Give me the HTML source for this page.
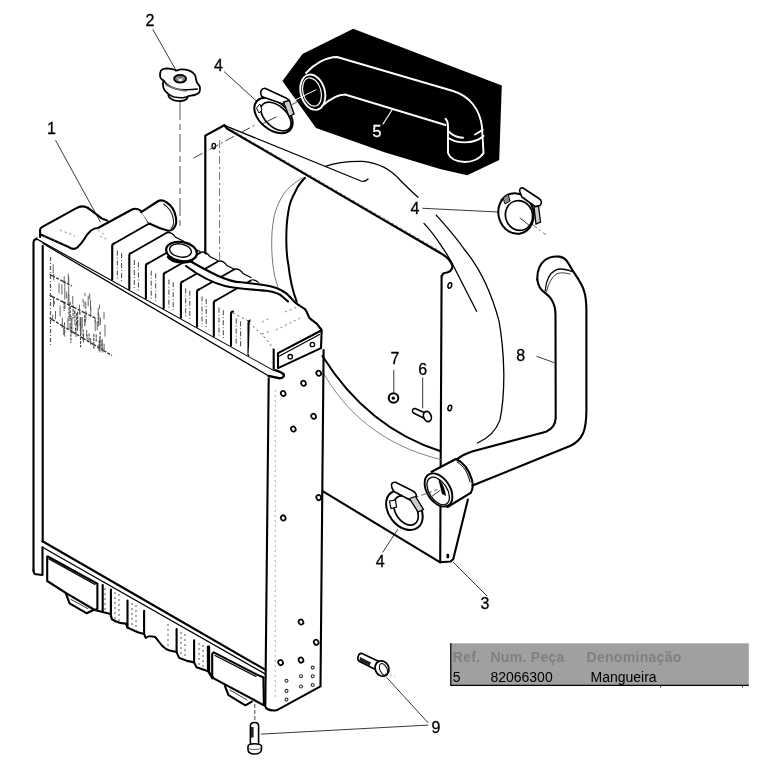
<!DOCTYPE html>
<html><head><meta charset="utf-8">
<style>
html,body{margin:0;padding:0;background:#fff;width:757px;height:768px;overflow:hidden}
svg{position:absolute;left:0;top:0;display:block;will-change:transform}
.n{font-family:"Liberation Sans",sans-serif;font-size:16px;fill:#000;stroke:#000;stroke-width:0.3;text-anchor:middle}
.k{fill:none;stroke:#000;stroke-width:2.1;stroke-linejoin:round;stroke-linecap:round}
.m{fill:none;stroke:#000;stroke-width:1.3;stroke-linecap:round}
.s{fill:none;stroke:#222;stroke-width:0.9;stroke-linecap:round}
.d{fill:none;stroke:#333;stroke-width:0.9;stroke-dasharray:14 4 2 4}
.g{fill:none;stroke:#777;stroke-width:0.8;stroke-dasharray:2 3}
.w{fill:none;stroke:#fff;stroke-width:1.9;stroke-linecap:round;stroke-linejoin:round}
.tb{font-family:"Liberation Sans",sans-serif;font-size:14px}
</style></head><body>
<svg width="757" height="768" viewBox="0 0 757 768">
<!-- ========== HOSE 5 (black highlight) ========== -->
<g id="hose5">
<polygon points="353.2,28.7 501.8,85.4 499.2,160.1 467.3,175.3 440,169 384.5,152.3 316,128 282.4,81 302.5,54.1" fill="#000"/>

<path class="w" d="M306,73 C314,64 326,57 337,57 L453,91 C470,96 480,110 482,127 L483.5,153"/>
<path class="w" d="M322,106 C330,99 338,94.5 345,94.5 L445.5,125"/>
<path class="w" d="M445.5,118.7 C448,121 448,124 448,127 L448,153 C450,159 456,161.5 464.5,162 C472,162 480,159 483.5,153"/>
<path class="w" d="M448,131 C452,135 458,137.5 463,137.7"/>
<path class="w" d="M475,134.5 C478,133 481,131 482.7,129.8"/>
<path class="w" d="M448,137.7 C453,141 458,142.4 464.5,142.4 C472,142.4 479,140 483.5,136"/>
<ellipse class="w" cx="312.8" cy="92.2" rx="12" ry="18" transform="rotate(-15 312.8 92.2)"/>
<ellipse class="w" cx="312" cy="92" rx="9" ry="14.5" transform="rotate(-15 312 92)" style="stroke-width:1.2"/>
<path class="w" d="M290,102.5 L316,89.8" style="stroke-width:1"/>
<path class="w" d="M383,124 L392,110" style="stroke-width:1.2"/>
<text x="377" y="137" class="n" style="fill:#fff;stroke:#fff">5</text>
</g>


<!-- ========== panel 3 & shroud ========== -->
<g id="panel">
<path class="k" d="M205.3,262 L205.3,135.6 L224.3,125.3" style="stroke-width:2.2"/>
<path class="m" d="M224.3,125.3 L361,181 C364,182 366,181 368,179"/>
<path class="k" d="M224.3,125.3 L227,128.5 L442,254 C447,257 451,260 452.5,266 C452.5,270 450,272.5 443.7,273.2 L441.6,276 L440.2,562.3 L450.7,561.5 L453.3,558.9 L467.9,499.5"/>
<path class="g" d="M219.6,140 L219.6,300" style="stroke:#555;stroke-dasharray:8 3 2 3"/>
<path class="g" d="M232,130 L440,251" style="stroke:#555"/>
<ellipse cx="213.8" cy="146.1" rx="1.8" ry="2.8" fill="none" stroke="#000" stroke-width="1.3"/>
<path class="k" d="M323,491.4 L440.2,562.3"/>
<path class="m" d="M424,223.4 C435,235 448,255 454,267 L476.6,311.2"/>
<!-- shroud arcs -->
<path class="k" d="M305,177.7 C300,183 297,187 295.6,191.3 C291,199 289,206 288.3,212 C286.5,222 286.3,230 286.3,239.2 C286.3,250 287,258 288.3,264.2 C290,280 293,292 296.7,301.7" style="stroke-width:2"/>
<path class="s" d="M302.9,177.7 C294,183 288,188 284.2,193.3 C278,203 275,211 273.8,218.3 C272,228 271.7,236 271.7,243.3 C271.7,256 273,268 274.8,276.7 L277.9,287" style="stroke:#666"/>
<path class="m" d="M325.4,166.4 C335,163 350,161 363,161.4 C380,163 392,171 400,180 C408,188 415,195 420,199 C425,203 430,208 435.2,213.9 C445,225 456,237 464,249 C480,268 492,295 499,320.9 C502,338 503.5,355 503.8,372.6 C504,390 503,405 500,419.9 C496,431 489,438 477.5,443"/>
<path d="M418.5,197.5 L436,214.5" stroke="#fff" stroke-width="5"/>
<path class="m" d="M322.4,356 C345,392 380,432 440.7,451.2" style="stroke-width:2"/>
<path class="s" d="M324.2,374.4 C345,410 380,445 440.7,459.5" style="stroke:#777"/>
<ellipse cx="449.8" cy="285.5" rx="1.8" ry="2.8" transform="rotate(15 449.8 285.5)" fill="#fff" stroke="#000" stroke-width="1.5"/>
<ellipse cx="449.8" cy="408" rx="1.8" ry="2.8" transform="rotate(15 449.8 408)" fill="#fff" stroke="#000" stroke-width="1.5"/>
<ellipse cx="447.8" cy="556" rx="1.5" ry="2.5" fill="#000"/>
</g>
<!-- ========== hose 8 ========== -->
<g id="hose8">
<path class="k" d="M537.3,279.6 C537,271 540,264 545,260 C549,257 554,256 559.4,256.6 C563,257 565,258.5 566.6,260.6 C569,264 571,268 572.9,270.9 C577,277 582,284 584,290.7 C586,297 586.4,302 586.4,310 L586.4,410 C586.4,430 583,440 570,446 L472.5,485.5"/>
<path class="k" d="M537.3,279.6 C538,285 541,290 544.4,292.3 C548,295 551,298 552.3,301 C554.5,305 555.5,309 555.5,315 L555.7,418 C555.5,424 552,429 546,431.7 L472,451.5 C466,453.5 461,456 456.5,459.5"/>
<path class="m" d="M545.2,290.7 C546,281 550,273 555.5,270.1 C560,268 566,269 572.9,271.7"/>
<path class="s" d="M546.5,292 C548,284 552,277 556.5,274 C561,272 566,273 570,274"/>
<!-- cuff -->
<path d="M431.6,471.7 L455.9,459 C466,465 473,477 470.7,492.8 L447.5,507 Z" fill="#fff"/>
<path class="k" d="M431.6,471.7 L455.9,459 M447.5,507 L470.7,492.8"/>
<path class="k" d="M455.9,459 C463,462 469,470 472,480 C473.5,486 472.5,490 470.7,492.8"/>
<path class="m" d="M457,462 C464,466 468,473 470,482" style="stroke-width:1"/>
<ellipse cx="438.5" cy="490" rx="11.5" ry="18.3" transform="rotate(-33 438.5 490)" fill="#fff" stroke="#000" stroke-width="1.9"/>
<ellipse cx="438.2" cy="491" rx="9" ry="15.3" transform="rotate(-33 438.2 491)" fill="none" stroke="#000" stroke-width="1.3"/>
<path d="M438,478 C442,482 445,488 446,496 L442,494 Z" fill="#000"/>
<path class="s" d="M431,497 L440,490.5"/>
</g>
<!-- ========== bolts 6,7 ========== -->
<g id="smallbolts">
<circle cx="393.5" cy="398" r="4.8" fill="#fff" stroke="#000" stroke-width="2"/>
<circle cx="393.3" cy="398.2" r="1.6" fill="#000"/>
<path d="M415,408.5 L425.5,413 L423.5,418 L413.5,413 C411.5,412 412.5,408 415,408.5 Z" fill="#fff" stroke="#000" stroke-width="1.5" stroke-linejoin="round"/>
<ellipse cx="427.4" cy="416.5" rx="3.8" ry="5.2" transform="rotate(-20 427.4 416.5)" fill="#fff" stroke="#000" stroke-width="1.7"/>
</g>

<!-- ========== radiator ========== -->
<g id="radiator">
<!-- front face frame -->
<path class="k" d="M33.5,571 L33.5,243 C33.5,240.5 35,239 37.3,238.6 L40,237.7"/>
<path class="k" d="M42.7,541.5 L42.7,246"/>
<path class="k" d="M37.3,238.6 L273.7,369.6 C278,371 282,372 283.7,374.5 C284.5,377 282,378.5 279,378.2 L268.7,376" style="stroke-width:2.4"/>
<path class="m" d="M43,243.5 L268.7,376"/>
<!-- lower tank -->
<path d="M42.5,547 L265,674 L264,706 L245,705 L228,695 L225,686 L212,678 L209,672 L196,667 L187,661 L176,652 L163,646.6 L155,637 L145.7,637.9 L137.8,632.3 L127.5,627.6 L115.6,621.2 L110.9,616.5 L94.7,610 L86.8,613.3 L69.6,603.4 L65.7,592.8 L47.2,581 Z" fill="#fff"/>
<path class="k" d="M33.5,570 C33.6,573 34.5,574.3 36,574.3 L42.5,575 L42.5,547.3"/>
<path class="k" d="M47.8,556.5 L96,583 M47.2,556.5 L47.2,581 L65.7,592.8 L94.7,610 L97.4,608.7 L97.4,583.6"/>
<path class="m" d="M49,559 L95,584.5"/>
<path class="k" d="M65.7,592.8 L69.6,603.4 L86.8,613.3 L93.4,610"/>
<path class="s" d="M71,599.4 L88,608.7"/>
<path class="k" d="M94.7,610 L110.6,614 L111.9,619.3 L115.6,621.2 C119,623 122,623.5 125.9,623.6 L127.5,627.6 L137.8,632.3 L144.1,633.9 L145.7,637.9 C147,637 149,636 150.5,636.3 C152,636.5 154,636.6 155.2,637 C158,640 160,644 163.2,646.6 C165,648.5 167,650 169.5,650.5 L176.6,652.1 L179,657.7 L187,660.9 L194.1,662.4 L196.5,667.2 L206,670.4 L209.1,672 L212.3,678.3"/>
<path class="k" d="M110.9,589.5 L110.9,616.5 M127.5,600.6 L127.5,627.6 M144.1,610.9 L144.1,634 M176.6,629.1 L176.6,652 M194.1,640.2 L194.1,662.4 M209.1,646.6 L209.1,672 M102.7,585 L102.7,611.3"/>
<path class="g" d="M105,588 L105,612 M115,592 L115,620 M119,594 L119,622 M132,603 L132,629 M136,605 L136,631 M168,624 L168,648 M181,632 L181,656 M185,634 L185,659 M199,643 L199,666 M203,645 L203,668" style="stroke:#555;stroke-width:1"/>
<path class="k" d="M207.9,646.6 L207.9,668.8 C208.5,672 209.5,674 210.6,675.2"/>
<path class="k" d="M213.7,652.4 L257,674.6 C260,676 262,676.5 263.4,677.3 L263.9,705.3 L213.7,678.3 L212.2,676.2 L212.2,655 C212.2,653.5 212.8,652.6 213.7,652.4"/>
<path class="m" d="M215,655.5 L256,676.5"/>
<path class="k" d="M224.8,685.7 L228.5,695.2 L245.4,705.3 L251.8,701.6"/>
<path class="s" d="M230,690 L247,700"/>
<path class="k" d="M42.5,541.3 L265.5,669.9" style="stroke-width:2.2"/>
<path class="m" d="M42.5,547.3 L265.5,674.1"/>
<!-- side frame -->
<path class="k" d="M268.7,378.2 L265.3,706.5 C266,709 270,711 276.6,710.3 L320.5,686.4 L323.6,350"/>
<path class="g" d="M275.3,390 L275.3,700" style="stroke:#999"/>
<ellipse cx="303.5" cy="383.3" rx="2.3" ry="2.6" transform="rotate(-30 303.5 383.3)" fill="#fff" stroke="#000" stroke-width="1.7"/>
<ellipse cx="283.2" cy="393.5" rx="2.3" ry="2.6" transform="rotate(-30 283.2 393.5)" fill="#fff" stroke="#000" stroke-width="1.7"/>
<ellipse cx="313.6" cy="416.3" rx="2.3" ry="2.6" transform="rotate(-30 313.6 416.3)" fill="#fff" stroke="#000" stroke-width="1.7"/>
<ellipse cx="293.3" cy="429" rx="2.3" ry="2.6" transform="rotate(-30 293.3 429)" fill="#fff" stroke="#000" stroke-width="1.7"/>
<ellipse cx="318.7" cy="373.2" rx="2.3" ry="2.6" transform="rotate(-30 318.7 373.2)" fill="#fff" stroke="#000" stroke-width="1.7"/>
<ellipse cx="318.7" cy="497.6" rx="2.3" ry="2.6" transform="rotate(-30 318.7 497.6)" fill="#fff" stroke="#000" stroke-width="1.7"/>
<ellipse cx="283.2" cy="517.9" rx="2.3" ry="2.6" transform="rotate(-30 283.2 517.9)" fill="#fff" stroke="#000" stroke-width="1.7"/>
<ellipse cx="301" cy="622" rx="2.3" ry="2.6" transform="rotate(-30 301 622)" fill="#fff" stroke="#000" stroke-width="1.7"/>
<ellipse cx="316.2" cy="642.3" rx="2.3" ry="2.6" transform="rotate(-30 316.2 642.3)" fill="#fff" stroke="#000" stroke-width="1.7"/>
<ellipse cx="280.6" cy="662.6" rx="2.3" ry="2.6" transform="rotate(-30 280.6 662.6)" fill="#fff" stroke="#000" stroke-width="1.7"/>
<ellipse cx="301" cy="660.1" rx="2.3" ry="2.6" transform="rotate(-30 301 660.1)" fill="#fff" stroke="#000" stroke-width="1.7"/>
<g fill="none" stroke="#333" stroke-width="1.1"><circle cx="312.7" cy="667.6" r="1.5"/><circle cx="286.5" cy="680.7" r="1.5"/><circle cx="301" cy="676.3" r="1.5"/><circle cx="312.7" cy="676.3" r="1.5"/><circle cx="286.5" cy="690.9" r="1.5"/><circle cx="301" cy="686.5" r="1.5"/><circle cx="312.7" cy="685" r="1.5"/><circle cx="286.5" cy="699.6" r="1.5"/></g>
<!-- core texture -->
<g fill="none" stroke-linecap="butt">
<path d="M49.6,274.4 L72,286 M49.6,295.2 L95.4,318.1 M49.6,318.1 L112,355.6" stroke="#333" stroke-width="1.4" stroke-dasharray="6 1.5 3 1.5"/>
<path d="M50.5,257 L50.5,345" stroke="#555" stroke-width="1.2" stroke-dasharray="4 2 1 2"/>
<path d="M64.9,302.6 L64.9,309.0 M84.6,318.8 L84.6,322.3 M52.7,314.6 L52.7,320.0 M64.7,330.3 L64.7,336.6 M97.2,321.5 L97.2,330.3 M60.1,305.6 L60.1,316.4 M80.3,322.9 L80.3,331.9 M55.5,310.9 L55.5,319.2 M68.3,273.6 L68.3,284.4 M77.5,320.2 L77.5,331.1 M90.6,338.0 L90.6,344.6 M95.2,319.7 L95.2,331.1 M99.5,304.5 L99.5,308.7 M63.7,328.0 L63.7,335.0 M85.8,301.5 L85.8,309.1 M72.8,295.9 L72.8,304.1 M83.5,333.7 L83.5,342.9 M102.2,340.7 L102.2,352.6 M88.2,295.6 L88.2,306.3 M104.1,343.7 L104.1,351.9 M90.5,299.8 L90.5,310.3 M83.0,298.7 L83.0,302.3 M98.1,345.2 L98.1,349.0 M95.2,318.2 L95.2,322.6 M67.9,318.0 L67.9,328.9 M54.4,301.0 L54.4,304.4 M90.8,306.4 L90.8,317.3 M105.0,324.6 L105.0,336.6 M68.7,276.7 L68.7,285.1 M53.7,273.6 L53.7,280.3 M85.0,292.9 L85.0,296.3 M98.9,314.4 L98.9,326.1 M100.4,317.6 L100.4,324.8 M80.1,317.2 L80.1,325.6 M82.2,317.1 L82.2,328.6 M79.4,304.7 L79.4,314.2 M64.8,287.7 L64.8,299.5 M80.1,311.8 L80.1,314.9 M74.4,310.3 L74.4,313.5 M85.3,319.5 L85.3,323.0 M85.9,310.7 L85.9,319.8 M71.0,316.0 L71.0,325.6 M53.2,264.3 L53.2,273.4 M104.0,312.1 L104.0,319.2 M84.0,301.4 L84.0,307.6 M68.9,294.4 L68.9,302.8 M68.2,294.5 L68.2,304.4 M53.5,297.6 L53.5,307.2 M68.7,285.5 L68.7,295.7 M64.9,280.7 L64.9,287.6 M89.7,293.3 L89.7,299.2 M70.0,323.0 L70.0,330.0 M98.2,307.7 L98.2,313.8 M87.1,334.4 L87.1,341.4 M64.2,276.1 L64.2,283.8 M62.3,317.5 L62.3,328.0 M61.9,284.3 L61.9,294.6 M86.7,329.8 L86.7,336.0 M59.0,283.2 L59.0,293.4 M66.6,291.6 L66.6,298.4" stroke="#555" stroke-width="0.9"/>
<path d="M80.8,317.3 L80.8,334.5 M70.2,302.0 L70.2,319.4 M99.2,340.2 L99.2,352.5 M102.0,339.2 L102.0,349.4 M93.8,334.0 L93.8,348.7 M84.8,314.9 L84.8,326.3 M73.1,304.8 L73.1,318.7 M75.5,327.7 L75.5,336.2 M100.1,331.7 L100.1,348.9 M99.9,337.7 L99.9,351.5 M64.5,322.5 L64.5,332.2 M76.0,323.5 L76.0,336.7 M80.6,333.1 L80.6,347.3 M77.7,311.7 L77.7,328.3 M83.1,329.2 L83.1,340.7 M71.9,318.4 L71.9,334.6 M70.9,325.8 L70.9,343.0 M96.2,334.4 L96.2,342.5 M89.1,333.4 L89.1,341.9 M74.9,311.3 L74.9,324.6 M80.9,319.3 L80.9,335.0 M64.1,301.7 L64.1,310.9 M69.0,303.5 L69.0,321.3 M98.2,312.8 L98.2,325.9 M76.6,313.2 L76.6,324.7" stroke="#444" stroke-width="1.1" stroke-dasharray="3 1"/>
</g>

</g>
<!-- ========== upper tank ========== -->
<g id="tank">
<path d="M37.3,238.6 L40.1,229 L78,207 L90,209 L101,218 L132,209.5 L141,211 L157,202 L172,214 L166,233 L183,243 L201,252 L218,261 L234,269 L252,280 L289,296 L321.7,330 L321,348 L278,368 L273.7,370 Z" fill="#fff"/>
<path class="k" d="M40.1,237 L40.1,229.5 C40.5,228 41,227.5 41.9,227.1 L76.4,208.1 C79,206.5 83,206 85.9,206.9 C88,207.7 89.5,208.8 90.6,209.9 L101.3,218.2 L107.3,220.6"/>
<path class="k" d="M40.1,234.2 L69.2,247.3 C72,249.3 75.5,249 77.6,247.3 C80,245 82,242.5 84,239.5 C86,236 88,233 91,230.5 C93,229 95,228 98,228 L132,209.5 C136,208 139,209 141,211 C143.5,213.5 145.5,216.5 149.2,223.5"/>
<path class="g" d="M44,236 L68,246 M60,230 L75,236 M98,230 L106,236 M100,236 L108,240" style="stroke:#666"/>
<path class="k" d="M112.2,279.6 L112.2,246.5 C112.2,244.5 112.9,243.5 114.2,243.5 M129.3,289.1 L129.3,256.0 C129.3,254.0 130.0,253.0 131.3,253.0 M145.9,298.3 L145.9,266.5 C145.9,264.5 146.6,263.5 147.9,263.5 M163.7,308.1 L163.7,275.5 C163.7,273.5 164.4,272.5 165.7,272.5 M180.9,317.7 L180.9,284.5 C180.9,282.5 181.6,281.5 182.9,281.5 M197.0,326.6 L197.0,292.5 C197.0,290.5 197.7,289.5 199.0,289.5 M213.8,335.9 L213.8,303.5 C213.8,301.5 214.5,300.5 215.8,300.5 M231.0,345.4 L231.0,314.5 C231.0,312.5 231.7,311.5 233.0,311.5 M248.5,355.1 L248.5,323.5 C248.5,321.5 249.2,320.5 250.5,320.5"/>
<path class="k" d="M114.2,243.5 L149.2,223.5 M131.3,253.0 L166.3,233.0 M147.9,263.5 L182.9,243.5 M165.7,272.5 L200.7,252.5 M182.9,281.5 L217.9,261.5 M199.0,289.5 L234.0,269.5 M215.8,300.5 L250.8,280.5" style="stroke-width:1.9"/>
<path class="g" d="M233,313 L248.5,321 M250.5,322 L262,328" style="stroke:#555;stroke-width:1"/>
<path class="m" d="M166.3,233.0 C169.3,231.5 173.3,233.5 175.3,237.0 L183.3,241.0 M182.9,243.5 C185.9,242.0 189.9,244.0 191.9,247.5 L199.9,251.5 M200.7,252.5 C203.7,251.0 207.7,253.0 209.7,256.5 L217.7,260.5 M217.9,261.5 C220.9,260.0 224.9,262.0 226.9,265.5 L234.9,269.5 M234.0,269.5 C237.0,268.0 241.0,270.0 243.0,273.5 L251.0,277.5 M250.8,280.5 C253.8,279.0 257.8,281.0 259.8,284.5 L267.8,288.5 M268.0,291.5 C271.0,290.0 275.0,292.0 277.0,295.5 L285.0,299.5"/>
<path class="g" d="M117.3,250.6 L117.3,279.9 M121.6,253.1 L121.6,282.3 M134.3,260.0 L134.3,289.3 M138.4,262.5 L138.4,291.6 M151.2,270.7 L151.2,298.7 M155.7,273.4 L155.7,301.2 M168.9,279.6 L168.9,308.5 M173.2,282.2 L173.2,310.9 M185.7,288.4 L185.7,317.9 M189.8,290.8 L189.8,320.1 M202.0,296.5 L202.0,326.9 M206.2,299.0 L206.2,329.2 M219.0,307.6 L219.0,336.3 M223.3,310.2 L223.3,338.6 M236.2,318.6 L236.2,345.8 M240.6,321.3 L240.6,348.3" style="stroke:#444;stroke-width:1;stroke-dasharray:5 2 1 2"/>
<path d="M141.2,212.2 L157.5,201.5 C160,200 163,200 166,202 C171,205 175,211 176,218 C176.8,223 175.5,227 172.5,229.5 C170.5,231 168,231 166,230 L149.2,223.5 Z" fill="#fff"/>
<path class="k" d="M141.2,212.2 L157.5,201.5 C160,200 163,200 166,202 C171,205 175,211 176,218 C176.8,223 175.5,227 172.5,229.5 C170.5,231 168,231 166,230 C160,228.5 155,226 149.2,223.5"/>
<path class="s" d="M163.5,204 C168.5,207 172.5,213 173.5,220 C173.8,224 173,227 171,228.5" style="stroke-width:1.1"/>
<path d="M250.5,320.5 L252,280 L289.4,296.5 L321.7,330 L321,348.1 L278,368.1 L273.7,368 L248.5,354.6 Z" fill="#fff"/>
<path class="k" d="M289.4,296.5 C292,299 294,302 296.6,303.7 C300,306 303,307.5 305.2,309.4 C307.5,312 308,316 309.5,318 C312,320.5 314.5,321.5 316.7,323.7 L321.7,330 L321,348.1 L278,368.1 L278,353.1 L321.7,330.2"/>
<path class="m" d="M279.5,356 L319.5,334.5"/>
<path class="k" d="M273.7,349.5 L273.7,369"/><path class="g" d="M249,323 C258,330 268,340 273.7,349.5" style="stroke:#555;stroke-width:1"/>
<circle cx="290.2" cy="356.7" r="2.2" fill="none" stroke="#000" stroke-width="1.3"/>
<circle cx="312.4" cy="344.5" r="2.2" fill="none" stroke="#000" stroke-width="1.3"/>
<path class="g" d="M262,334 L270,331 M276,330 L300,318 M262,322 L270,318 M285,312 L302,305" style="stroke:#555"/>
<path d="M189.2,260.5 C200,267 208,271 217.2,275.5 C228,280.5 236,282.2 241.2,282.2 L263.7,285 C272,286 280,288.5 286.6,293.6 L290.9,297.9 L288,301.5 C284,298 280,296.5 275,295 L266.5,290.8 C250,289.5 240,288.6 235,288.6 C225,287 210,282 198,275 L186,266 Z" fill="#fff"/>
<path class="k" d="M189.2,260.5 C200,267 208,271 217.2,275.5 C228,280.5 236,282.2 241.2,282.2 L263.7,285 C272,286 280,288.5 286.6,293.6 L290.9,297.9"/>
<path class="k" d="M186,266 C198,275 210,282 225,286 C235,288.3 245,289 266.5,290.8 C275,292 280,294 282.3,296.5 L288,301.5"/>
<ellipse cx="181.5" cy="251.5" rx="15.5" ry="9.5" transform="rotate(10 181.5 251.5)" fill="#fff" stroke="#000" stroke-width="2.2"/>
<ellipse cx="180.5" cy="250.5" rx="11" ry="6.5" transform="rotate(10 180.5 250.5)" fill="none" stroke="#000" stroke-width="1.4"/>
<path class="k" d="M168,257 C172,262 182,264 192,261" style="stroke-width:2.5"/>
</g>
<!-- ========== bolts 9 ========== -->
<g id="bolts9">
<path class="d" d="M254.8,704 L254.8,721" style="stroke-dasharray:4 2"/>
<path class="k" d="M250.4,744 L250.4,726 C250.4,723 252,722.5 254.5,722.5 C257,722.5 258.6,723 258.6,726 L258.6,744" style="fill:#fff;stroke-width:1.6"/>
<rect x="251" y="727" width="2.6" height="10.5" fill="#222"/>
<path d="M248,746.5 C248,744.5 251,743.8 254.5,743.8 C258,743.8 261.5,744.5 261.5,746.5 L261.5,749.5 C261.5,752.5 258,754 254.5,754 C251,754 248,752.5 248,749.5 Z" fill="#fff" stroke="#000" stroke-width="1.6"/>
<path class="s" d="M248.5,748.5 C252,750 257,750 261,748.5" style="stroke:#555"/>
<path d="M362,653.5 L379,661.5 L375.5,669.5 L359.5,661.5 C356.5,660 358,652.5 362,653.5 Z" fill="#fff" stroke="#000" stroke-width="1.6" stroke-linejoin="round"/>
<path d="M360,657 L371,662.5 L369.5,666 L359.5,661 Z" fill="#222"/>
<ellipse cx="382" cy="668.5" rx="6.8" ry="7.8" transform="rotate(-25 382 668.5)" fill="#fff" stroke="#000" stroke-width="1.8"/>
<ellipse cx="383.5" cy="669.5" rx="3.5" ry="6.3" transform="rotate(-25 383.5 669.5)" fill="none" stroke="#000" stroke-width="1"/>
<path class="g" d="M385,673 L395,677"/>
</g>
<!-- ========== table ========== -->
<g id="table">
<rect x="450.3" y="643.3" width="298.5" height="42" fill="#a0a0a0"/>
<path d="M450.8,643.3 L450.8,685.3 L748.8,685.3" fill="none" stroke="#000" stroke-width="1.2"/>
<path d="M660.7,685 L660.7,687.5 M742.5,685 L742.5,687.5" stroke="#333" stroke-width="1"/>
<g style="font-family:'Liberation Sans',sans-serif;font-size:14px;font-weight:bold;fill:#808080;letter-spacing:0.3px">
<text x="452.8" y="662">Ref.</text><text x="490.4" y="662">Num. Peça</text><text x="586.5" y="662">Denominação</text>
</g>
<g style="font-family:'Liberation Sans',sans-serif;font-size:14px;fill:#000">
<text x="452.8" y="681.7">5</text><text x="490.4" y="681.7">82066300</text><text x="590.5" y="681.7">Mangueira</text>
</g>
</g>
<!-- ========== labels & leaders ========== -->
<g id="labels">
<text x="51.5" y="134" class="n">1</text>
<text x="150" y="26" class="n">2</text>
<text x="218.5" y="71" class="n">4</text>
<text x="415" y="214" class="n">4</text>
<text x="520.6" y="361" class="n">8</text>
<text x="395" y="364" class="n">7</text>
<text x="422.7" y="375" class="n">6</text>
<text x="380.3" y="567.3" class="n">4</text>
<text x="485" y="609.3" class="n">3</text>
<text x="436" y="733.3" class="n">9</text>
<path class="s" d="M55.7,140.6 L100.4,222"/>
<path class="s" d="M153,29.6 L176,70.3"/>
<path class="s" d="M224.3,71.8 L257,101.5"/>
<path class="s" d="M422.7,208.3 L498,212"/>
<path class="s" d="M536.9,356.4 L554.4,362.7"/>
<path class="s" d="M393.8,370.2 L393.8,392"/>
<path class="s" d="M422.7,377.7 L422.7,408"/>
<path class="s" d="M382.9,552 L397.6,529.6"/>
<path class="s" d="M453.3,562.3 L486.8,595.8"/>
<path class="s" d="M386.8,677.6 L428,722.7"/>
<path class="s" d="M261.5,734.1 L428,725.1"/>
</g>
<!-- ========== cap 2 ========== -->
<g id="cap">
<path d="M160.9,70.6 C162,69.3 163.5,68.7 164.9,68.6 C167,68.4 169.5,68.6 171.5,68.9 C173.5,69.3 175,70 176.1,70.6 C178,70 179.5,69.4 181.4,69.3 C184,69.2 187,69.8 189.3,70.6 C191.5,71.5 193.5,73 194.6,74.5 C195.6,76 195.9,77.6 196,79.2 C196.3,80.6 196.7,82 197.3,83.1 C198.5,84.3 199.6,85.6 199.9,87.1 C200.2,89 200,91 199.3,92.4 C198,93.8 196.5,94.6 194.6,95 C192,95.6 190,95.8 188,96.3 C187.5,97.5 187.3,98.4 186.7,99 C185,100.2 183.3,100.8 181.4,101 C179,101.2 176.5,100.9 174.2,100.3 C172,99.5 170,98.4 168.9,97 C168.5,96 168.3,94.8 168.2,93.7 C166.5,92.5 165,91.2 164.2,89.7 C163.3,87.8 162.9,85.8 162.9,83.8 C163,82.6 163.2,81.5 163.6,80.5 C162,79.8 160.8,78.6 160.3,77.2 C159.8,75 160,72.5 160.9,70.6 Z" fill="#fff" stroke="#000" stroke-width="1.8" stroke-linejoin="round"/>
<path class="m" d="M163.6,80.5 C165,82.5 166.5,84 168.2,85.1 C170.5,86.6 172.5,87.7 174.8,88.4 C178,89.3 181,89.7 184.7,89.7 C189,89.8 193,89.6 197.3,89.1" style="stroke-width:1.5"/>
<path class="s" d="M166,85 C172,88 178,90 186,91" style="stroke:#777;stroke-width:1.5"/>
<path class="m" d="M168.9,94.4 C170.5,95.6 172.3,96.5 174.2,97 C177,97.6 180,97.8 182.7,97.7 C184.5,97.5 186.5,97 188,96.3" style="stroke-width:1.4"/>
<ellipse cx="180.1" cy="78.8" rx="6" ry="3.9" fill="#777" stroke="#000" stroke-width="1.8"/>
<ellipse cx="180.4" cy="79.9" rx="2" ry="1.2" fill="#fff"/>
<path d="M177,77.5 L178.5,79 M183.5,77.5 L182,79" stroke="#fff" stroke-width="0.8"/>
<path class="d" d="M180,102 L180,228" style="stroke-dasharray:18 4 6 4;stroke:#444"/>
</g>
<!-- ========== clamp top ========== -->
<g id="clamp1">
<path class="d" d="M193.6,158 L256,124.5 M292,104.5 L300,100.5" style="stroke-dasharray:10 3 2 3"/>
<ellipse cx="273.5" cy="115.5" rx="22" ry="14" transform="rotate(39.5 273.5 115.5)" fill="#fff" stroke="#000" stroke-width="2"/>
<ellipse cx="276" cy="116.5" rx="18" ry="10.5" transform="rotate(42 276 116.5)" fill="none" stroke="#000" stroke-width="1.7"/>
<path class="s" d="M262,124 L276,117"/>
<path d="M261.5,96 C259.5,92 261,88.5 265,88.3 L286,98 C289,99.5 290,101.5 289,103.5 L283,104 L263,97 Z" fill="#fff" stroke="#000" stroke-width="1.6" stroke-linejoin="round"/>
<path d="M283.5,102 L289.5,100.5 L294,114 L289,116.5 Z" fill="#ccc" stroke="#000" stroke-width="1.3"/>
<path d="M256.5,108 L260,104 L262,110 L259,113 Z" fill="#fff" stroke="#000" stroke-width="1"/>
</g>
<!-- ========== clamp mid ========== -->
<g id="clamp2">
<path class="d" d="M500.5,199.5 L545.7,234.7" style="stroke-dasharray:10 3 2 3;stroke:#555"/>
<ellipse cx="516" cy="213.5" rx="17.5" ry="20.5" transform="rotate(-15 516 213.5)" fill="#fff" stroke="#000" stroke-width="2"/>
<ellipse cx="519" cy="215.5" rx="13.5" ry="15" transform="rotate(-15 519 215.5)" fill="none" stroke="#000" stroke-width="1.7"/>
<path class="s" d="M520,218 L530,226"/>
<path d="M520.5,193.5 C518.5,190 520,187.5 523,188 L539,198.5 C542,200.5 542,203.5 540,205.5 L535,206.5 L522,197 Z" fill="#fff" stroke="#000" stroke-width="1.6" stroke-linejoin="round"/>
<path d="M534,207 L538.5,206 L540.5,222 L536,224 Z" fill="#ccc" stroke="#000" stroke-width="1.3"/>
<path d="M503,198 L508,194 L510,201 L505,204 Z" fill="#888" stroke="#000" stroke-width="1"/>
</g>
<!-- ========== clamp bottom ========== -->
<g id="clamp3">
<path class="d" d="M395,505 L437.7,489.4" style="stroke-dasharray:6 3 2 3;stroke:#555"/>
<ellipse cx="404.4" cy="510.2" rx="22" ry="15.6" transform="rotate(52 404.4 510.2)" fill="#fff" stroke="#000" stroke-width="2"/>
<ellipse cx="406" cy="510.5" rx="16" ry="10.5" transform="rotate(58 406 510.5)" fill="none" stroke="#000" stroke-width="1.7"/>
<path d="M392,488 C390.5,484 392,482 395.5,482.3 L413,491 C416,493 417,495.5 416,498 L410,500 L394,491.5 Z" fill="#fff" stroke="#000" stroke-width="1.6" stroke-linejoin="round"/>
<path d="M409.5,498.5 L415.5,496.5 L423.5,509.5 L418,512 Z" fill="#ccc" stroke="#000" stroke-width="1.3"/>
<path d="M389.5,501 L395.5,500 L396.5,507 L391,508.5 Z" fill="#fff" stroke="#000" stroke-width="1.2"/>
</g>
</svg>
</body></html>
